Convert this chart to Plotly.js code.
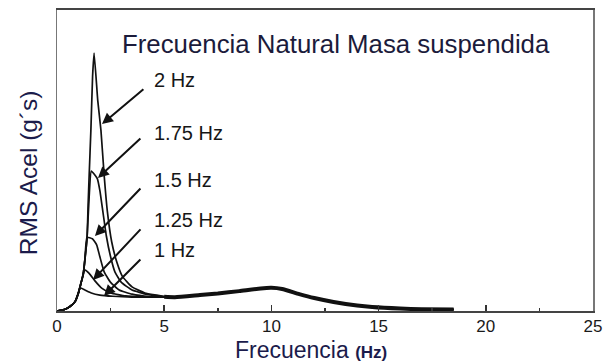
<!DOCTYPE html>
<html>
<head>
<meta charset="utf-8">
<script src="https://cdn.plot.ly/plotly-3.0.1.min.js"></script>
<style>html,body{margin:0;padding:0;background:#fff}#chart{width:604px;height:364px}</style>
</head>
<body>
<div id="chart"></div>
<script>
// Frequency (Hz) and RMS acceleration (relative units, no y labels in the original)
var f1Hz   = [0, 0.25, 0.5, 0.7, 0.85, 1.0, 1.08, 1.3, 1.6, 2.0, 2.6, 3.5, 4.5];
var v1Hz   = [0, 0.003, 0.01, 0.02, 0.032, 0.062, 0.077, 0.07, 0.06, 0.053, 0.049, 0.046, 0.046];
var f125Hz = [0, 0.25, 0.5, 0.7, 0.85, 1.0, 1.12, 1.25, 1.32, 1.5, 1.77, 2.1, 2.5, 3.2, 4.2];
var v125Hz = [0, 0.003, 0.01, 0.02, 0.032, 0.06, 0.093, 0.13, 0.136, 0.125, 0.10, 0.075, 0.06, 0.05, 0.047];
var f15Hz  = [0, 0.25, 0.5, 0.7, 0.85, 1.0, 1.12, 1.22, 1.3, 1.4, 1.65, 1.85, 2.0, 2.2, 2.5, 2.9, 3.5, 4.3];
var v15Hz  = [0, 0.003, 0.01, 0.02, 0.032, 0.06, 0.093, 0.12, 0.17, 0.245, 0.24, 0.22, 0.18, 0.13, 0.095, 0.07, 0.056, 0.048];
var f175Hz = [0, 0.25, 0.5, 0.7, 0.85, 1.0, 1.12, 1.22, 1.3, 1.4, 1.5, 1.6, 1.88, 2.0, 2.14, 2.3, 2.5, 2.7, 3.0, 3.5, 4.2, 5.0];
var v175Hz = [0, 0.003, 0.01, 0.02, 0.032, 0.06, 0.093, 0.12, 0.17, 0.24, 0.38, 0.465, 0.44, 0.40, 0.33, 0.25, 0.18, 0.13, 0.095, 0.07, 0.055, 0.048];
var f2Hz   = [0, 0.25, 0.5, 0.7, 0.85, 1.0, 1.12, 1.22, 1.3, 1.4, 1.45, 1.5, 1.58, 1.66, 1.73, 1.9, 2.05, 2.2, 2.35, 2.55, 2.8, 3.05, 3.5, 4.1, 5.0];
var v2Hz   = [0, 0.003, 0.01, 0.02, 0.032, 0.06, 0.093, 0.12, 0.17, 0.24, 0.35, 0.45, 0.6, 0.78, 0.857, 0.70, 0.6, 0.45, 0.33, 0.23, 0.16, 0.115, 0.08, 0.06, 0.048];
// common tail shared by all curves
var fTail  = [5.0, 5.5, 6.67, 7.5, 8.5, 9.5, 10.0, 10.5, 11.3, 12.0, 12.9, 14.0, 14.7, 16.0, 17.0, 18.5];
var vTail  = [0.047, 0.046, 0.053, 0.058, 0.066, 0.075, 0.077, 0.073, 0.056, 0.043, 0.03, 0.018, 0.013, 0.008, 0.006, 0.005];

var curveNames = ['1 Hz', '1.25 Hz', '1.5 Hz', '1.75 Hz', '2 Hz'];
var curveF = [f1Hz, f125Hz, f15Hz, f175Hz, f2Hz];
var curveV = [v1Hz, v125Hz, v15Hz, v175Hz, v2Hz];

var traces = [];
for (var i = 0; i < curveNames.length; i++) {
  var fx = curveF[i].concat(fTail.slice(1));
  var vy = curveV[i].concat(vTail.slice(1));
  traces.push({x: fx, y: vy, type: 'scatter', mode: 'lines', name: curveNames[i],
    line: {color: '#111', width: 1.7, shape: 'spline', smoothing: 0.4}, hoverinfo: 'skip'});
}
traces.push({x: fTail, y: vTail, type: 'scatter', mode: 'lines', name: 'tail',
  line: {color: '#111', width: 4, shape: 'spline', smoothing: 0.5}, hoverinfo: 'skip'});

// label positions (annotation placement)
var labelX = 4.45;
var labelY = [0.203, 0.302, 0.435, 0.591, 0.767];
var headX = [2.19, 1.68, 1.77, 1.91, 2.10];
var headY = [0.05, 0.103, 0.249, 0.442, 0.621];
var tailX = [3.96, 3.96, 3.96, 3.96, 4.10];
var tailY = [0.176, 0.276, 0.412, 0.578, 0.741];

var ann = [];
for (var j = 0; j < curveNames.length; j++) {
  ann.push({xref: 'x', yref: 'y', x: labelX, y: labelY[j], text: curveNames[j], showarrow: false,
    xanchor: 'left', yanchor: 'middle', font: {family: 'Liberation Sans, Arial, sans-serif', size: 20, color: '#161616'}});
  ann.push({xref: 'x', yref: 'y', axref: 'x', ayref: 'y', x: headX[j], y: headY[j], ax: tailX[j], ay: tailY[j],
    text: '', showarrow: true, arrowhead: 2, arrowsize: 1.1, arrowwidth: 2, arrowcolor: '#111', standoff: 0});
}
ann.push({xref: 'paper', yref: 'paper', x: 0.5205, y: 0.887, xanchor: 'center', yanchor: 'middle',
  text: 'Frecuencia Natural Masa suspendida', showarrow: false,
  font: {family: 'Liberation Sans, Arial, sans-serif', size: 25.8, color: '#1b1b3b'}});
ann.push({xref: 'paper', yref: 'paper', x: 0.474, y: -0.1296, xanchor: 'center', yanchor: 'middle',
  text: 'Frecuencia <b><span style="font-size:17px">(Hz)</span></b>', showarrow: false,
  font: {family: 'Liberation Sans, Arial, sans-serif', size: 23, color: '#1b1b4b'}});
ann.push({xref: 'paper', yref: 'paper', x: -0.054, y: 0.458, xanchor: 'center', yanchor: 'middle', textangle: -90,
  text: 'RMS Acel (g´s)', showarrow: false,
  font: {family: 'Liberation Sans, Arial, sans-serif', size: 24.5, color: '#1b1b4b'}});

var layout = {
  width: 604, height: 364,
  margin: {l: 57, r: 11, t: 10, b: 53},
  paper_bgcolor: '#fff', plot_bgcolor: '#fff',
  showlegend: false,
  xaxis: {range: [0, 25], tick0: 0, dtick: 5, ticks: 'inside', ticklen: 6, tickwidth: 1.5, tickcolor: '#333',
    minor: {dtick: 2.5, ticks: 'inside', ticklen: 3, tickwidth: 1.5, tickcolor: '#333'},
    ticklabelstandoff: -1,
    showgrid: false, zeroline: false, showline: true, linecolor: '#444', linewidth: 2, mirror: true,
    tickfont: {family: 'Liberation Sans, Arial, sans-serif', size: 17, color: '#1a1a1a'}},
  yaxis: {range: [0, 1], showticklabels: false, ticks: '', showgrid: false, zeroline: false,
    showline: true, linecolor: '#777', linewidth: 1.5, mirror: true},
  annotations: ann
};
Plotly.newPlot('chart', traces, layout, {staticPlot: true, displayModeBar: false});
</script>
</body>
</html>
